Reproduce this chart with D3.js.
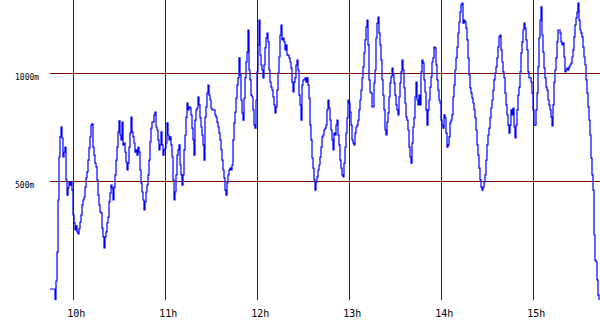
<!DOCTYPE html>
<html>
<head>
<meta charset="utf-8">
<script src="https://cdn.jsdelivr.net/npm/d3@7"></script>
<style>
  body { margin: 0; background: #fff; }
  text { font-family: "DejaVu Sans Mono", monospace; fill: #000; }
</style>
</head>
<body>
<div id="chart"></div>
<script>
// time window and samples (one reading per step, evenly spaced)
const startTime = "09:44:48";
const endTime = "15:43:30";
const values = [
  0,0,0,0,0,-55,37,171,412,611,
  704,750,699,611,634,657,505,435,468,495,
  481,495,458,343,306,273,292,264,255,278,
  310,343,389,412,426,472,514,542,597,653,
  704,759,764,657,620,583,565,505,435,389,
  356,352,282,241,190,241,264,306,333,403,
  444,481,468,412,472,528,597,657,727,778,
  713,690,773,667,676,634,588,551,583,657,
  722,796,727,704,676,634,644,620,657,634,
  551,491,449,412,366,403,449,481,528,597,
  681,745,773,773,806,819,750,736,690,644,
  667,727,667,620,644,653,676,769,713,690,
  704,667,611,505,412,449,528,620,644,667,
  574,528,481,528,644,713,796,861,829,843,
  838,806,745,690,620,782,829,838,889,852,
  792,750,713,667,597,796,843,907,944,898,
  875,838,829,829,829,806,796,773,750,722,
  690,644,597,551,514,458,435,491,528,551,
  560,551,574,690,769,819,884,944,977,1070,
  991,875,815,782,884,977,1051,1097,1199,1014,
  968,898,889,829,759,745,875,1005,1130,1245,
  1083,1037,1014,977,1037,1116,1162,1185,1144,1014,
  958,935,921,889,852,815,843,921,1000,1074,
  1176,1222,1153,1162,1144,1107,1130,1083,1083,1070,
  1051,1023,958,912,958,977,1037,1060,1014,898,
  852,782,944,968,968,977,958,977,944,884,
  759,690,606,560,505,458,495,519,551,574,
  611,657,704,713,736,745,759,829,875,838,
  782,736,690,644,722,713,759,782,713,667,
  597,560,528,519,583,657,722,792,875,861,
  819,759,690,676,667,722,750,759,782,829,
  875,921,977,1028,1093,1153,1213,1245,1130,968,
  912,907,843,843,954,1014,1162,1231,1259,1185,
  1130,1060,968,898,829,736,713,773,815,889,
  954,982,1023,991,954,898,852,829,806,889,
  954,1005,1060,1014,931,861,796,782,736,657,
  611,583,676,750,792,889,958,875,852,898,
  852,1005,1060,1046,968,912,829,759,829,875,
  935,982,1051,1070,1120,1116,1037,968,921,875,
  861,782,759,745,806,792,722,657,667,704,
  769,782,806,889,944,1014,1070,1120,1185,1236,
  1282,1315,1324,1231,1245,1236,1208,1153,1070,991,
  931,907,884,861,829,792,736,667,620,560,
  505,472,458,472,495,528,597,667,713,745,
  792,838,875,921,968,1000,1028,1070,1120,1167,
  1176,1107,1051,1005,977,907,852,806,759,722,
  759,829,806,838,750,699,759,829,898,935,
  1005,1093,1144,1199,1231,1208,1153,1107,1005,977,
  977,958,907,829,759,759,829,907,1028,1162,
  1245,1306,1176,1097,1023,977,935,921,875,852,
  829,796,755,852,958,1014,1070,1144,1199,1199,
  1185,1144,1130,1139,1074,1005,1014,1023,1014,1028,
  1037,1046,1074,1107,1167,1222,1255,1282,1324,1245,
  1199,1185,1167,1120,1074,1037,968,907,843,782,
  713,606,528,458,250,134,125,42,-28,-55
];
const hourTicks = ["10:00", "11:00", "12:00", "13:00", "14:00", "15:00"];
const hourLabels = ["10h", "11h", "12h", "13h", "14h", "15h"];
const yTicks = [500, 1000];
const yLabels = ["500m", "1000m"];
const yDomain = [-51, 1338];

(function(){
  const W = 600, H = 330;
  const plot = { left: 50, right: 600, top: 0, bottom: 300 };

  const parseT = d3.timeParse("%H:%M:%S");
  const parseH = d3.timeParse("%H:%M");
  const t0 = parseT(startTime), t1 = parseT(endTime);
  const step = (t1 - t0) / values.length;
  const data = values.map((v, i) => ({ t: new Date(+t0 + i * step), v: v }));

  const svg = d3.select("#chart").append("svg")
    .attr("width", W)
    .attr("height", H);

  const x = d3.scaleTime().domain([t0, t1]).range([plot.left, plot.right]);
  const y = d3.scaleLinear().domain(yDomain).range([plot.bottom, plot.top]);

  svg.append("clipPath").attr("id", "clip")
    .append("rect")
    .attr("x", plot.left).attr("y", plot.top)
    .attr("width", plot.right - plot.left)
    .attr("height", plot.bottom - plot.top);

  const grid = svg.append("g")
    .attr("stroke", "#800000")
    .attr("stroke-width", 1)
    .attr("shape-rendering", "crispEdges");

  // horizontal grid
  grid.selectAll(".hg").data(yTicks).enter().append("line")
    .attr("x1", plot.left).attr("x2", plot.right)
    .attr("y1", d => Math.round(y(d)) + 0.5)
    .attr("y2", d => Math.round(y(d)) + 0.5);

  // vertical grid
  grid.selectAll(".vg").data(hourTicks).enter().append("line")
    .attr("x1", d => Math.floor(x(parseH(d))) + 0.5)
    .attr("x2", d => Math.floor(x(parseH(d))) + 0.5)
    .attr("y1", plot.top).attr("y2", plot.bottom);

  // y labels
  svg.selectAll(".yl").data(yTicks).enter().append("text")
    .attr("x", 15)
    .attr("y", d => Math.round(y(d)) + 7)
    .attr("font-size", 8)
    .text((d, i) => yLabels[i]);

  // x labels
  svg.selectAll(".xl").data(hourTicks).enter().append("text")
    .attr("x", d => x(parseH(d)) + 3)
    .attr("y", 317)
    .attr("text-anchor", "middle")
    .attr("font-size", 10)
    .text((d, i) => hourLabels[i]);

  // data line
  const line = d3.line()
    .x(d => x(d.t))
    .y(d => y(d.v))
    .curve(d3.curveStepAfter);

  svg.append("path")
    .datum(data)
    .attr("clip-path", "url(#clip)")
    .attr("fill", "none")
    .attr("stroke", "#0000ff")
    .attr("stroke-width", 1.2)
    .attr("d", line);
})();
</script>
</body>
</html>
